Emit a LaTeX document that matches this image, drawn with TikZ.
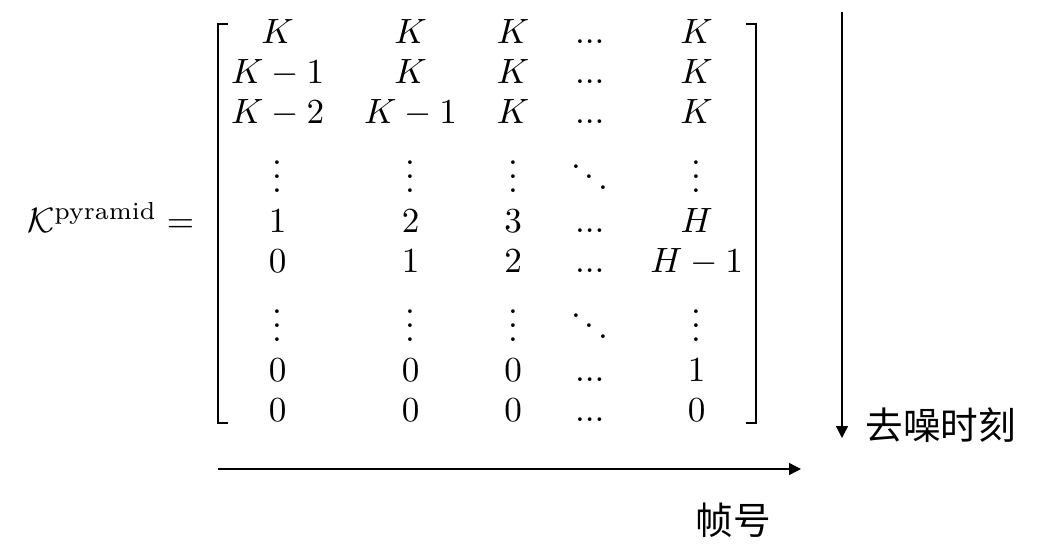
\documentclass[tikz,border=0pt]{standalone}
\usepackage{amsmath}
\usepackage{fontspec}
\newfontfamily\cjk{Noto Sans CJK SC}
\usetikzlibrary{positioning,calc,matrix,arrows.meta}
\tikzset{
kmat/.style={
  matrix of math nodes,
  inner sep=0pt,
  row sep=0pt,
  column sep=0.4cm,
  nodes={inner sep=0pt,text height=0.3cm,text depth=0.1cm},
  },
brkt/.style={line width=0.6pt},
axis/.style={-{Triangle[length=0.12cm,width=0.12cm]}},
lbl/.style={font=\cjk\fontsize{10.7}{13}\selectfont,inner sep=0pt},
%lhs/.style={anchor=base east}
}

\begin{document}
\begin{tikzpicture}
    \useasboundingbox (0,0) rectangle (10.42,-5.60);
    \matrix [kmat,anchor=north west] (kp) at (2.305,-0.13)
    {
        K & K & K & ... & K \\
        K-1 & K & K & ... & K \\
        K-2 & K-1 & K & ... & K \\[0.29cm]
        \vdots & \vdots & \vdots & \ddots & \vdots \\
        1 & 2 & 3 & ... & H \\
        0 & 1 & 2 & ... & H-1 \\[0.29cm]
        \vdots & \vdots & \vdots & \ddots & \vdots \\
        0 & 0 & 0 & ... & 1 \\
        0 & 0 & 0 & ... & 0 \\
    };
    % brackets
    \draw[brkt] ($(kp.north west)+(-0.025,-0.11)$) -- ++(-0.1,0) |- ($(kp.south west)+(-0.025,0.09)$);
    \draw[brkt] ($(kp.north east)+(0.025,-0.11)$) -- ++(0.1,0) |- ($(kp.south east)+(0.025,0.09)$);
    \node[anchor=base east,inner sep=0pt] (lhs) at ($(kp.west|-kp-5-1.base)+(-0.355,0)$) {$\mathcal{K}^{\text{pyramid}} =$};

    % axes
    \coordinate (tTop) at (8.42,-0.12);
    \coordinate (tEnd) at (8.42,-4.38);
    \coordinate (fStart) at (2.18,-4.69);
    \coordinate (fEnd) at (8.01,-4.69);
    \draw[axis] (tTop) -- (tEnd);
    \draw[axis] (fStart) -- (fEnd);
    \node[lbl,anchor=west] (tLab) at ($(tEnd)+(0.23,0.13)$) {去噪时刻};
    \node[lbl] (fLab) at ($(fEnd)+(-0.68,-0.51)$) {帧号};
\end{tikzpicture}
\end{document}
